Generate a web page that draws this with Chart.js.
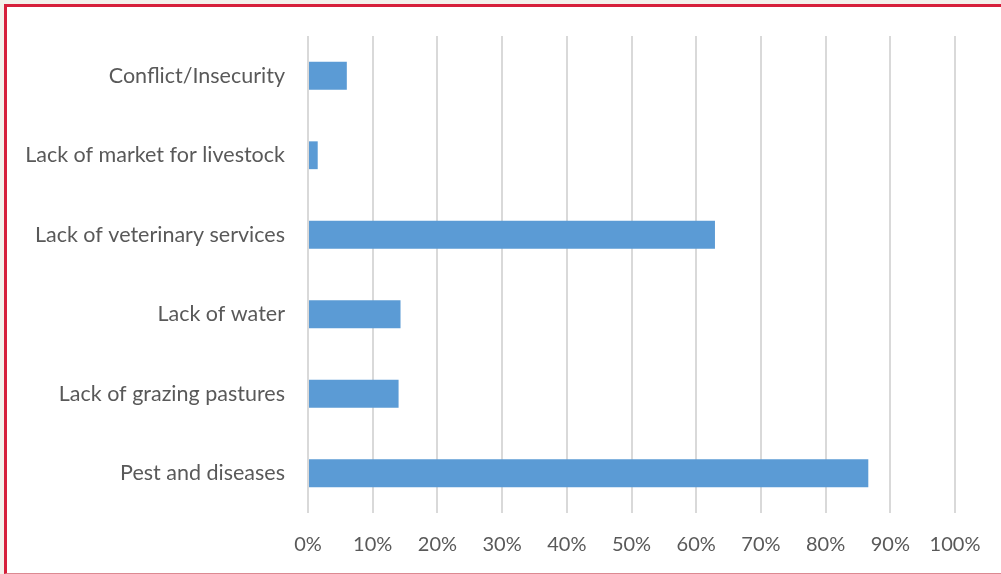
<!DOCTYPE html>
<html lang="en">
<head>
    <meta charset="UTF-8">
    <title>Livestock constraints</title>
    <script src="https://cdn.jsdelivr.net/npm/chart.js"></script>
    <style>
        html, body { margin: 0; padding: 0; background: #f3f0eb; }
        .frame {
            position: absolute; left: 4px; top: 4px; width: 994px; height: 566px;
            background: #fff;
            border-left: 3px solid #d61f3b;
            border-top: 3px solid #d61f3b;
            border-bottom: 1px solid #dc8a92;
        }
        .box { position: relative; width: 994px; height: 566px; }
    </style>
</head>
<body>
    <div class="frame">
        <div class="box"><canvas id="grafico"></canvas></div>
    </div>
<script>
    var categorias = [
        'Conflict/Insecurity',
        'Lack of market for livestock',
        'Lack of veterinary services',
        'Lack of water',
        'Lack of grazing pastures',
        'Pest and diseases'
    ];
    var valores = [6.0, 1.5, 62.9, 14.3, 14.0, 86.6];
    var ticksX = [0, 10, 20, 30, 40, 50, 60, 70, 80, 90, 100];

    var cinza = '#595959';

    new Chart(document.getElementById('grafico'), {
        type: 'bar',
        data: {
            labels: categorias,
            datasets: [{
                data: valores,
                backgroundColor: '#5b9bd5',
                barPercentage: 0.35,
                categoryPercentage: 1
            }]
        },
        options: {
            indexAxis: 'y',
            responsive: true,
            maintainAspectRatio: false,
            animation: false,
            layout: { padding: { top: 29, right: 46, left: 0, bottom: 0 } },
            plugins: { legend: { display: false }, tooltip: { enabled: false } },
            scales: {
                x: {
                    min: 0,
                    max: 100,
                    afterBuildTicks: function (scale) {
                        scale.ticks = ticksX.map(v => ({ value: v }));
                    },
                    afterFit: function (scale) { scale.height = 60; },
                    grid: { color: '#d9d9d9', lineWidth: 2, drawTicks: false },
                    border: { display: false },
                    ticks: {
                        color: cinza,
                        font: { family: 'Lato', size: 20 },
                        padding: 20,
                        maxRotation: 0,
                        callback: v => v + '%'
                    }
                },
                y: {
                    afterFit: function (scale) {
                        scale.width = 301;
                        scale.paddingTop = 0;
                        scale.paddingBottom = 0;
                    },
                    grid: { display: false, drawTicks: false },
                    border: { display: false },
                    ticks: { color: cinza, font: { family: 'Lato', size: 21.5 }, padding: 23 }
                }
            }
        }
    });
</script>
</body>
</html>
